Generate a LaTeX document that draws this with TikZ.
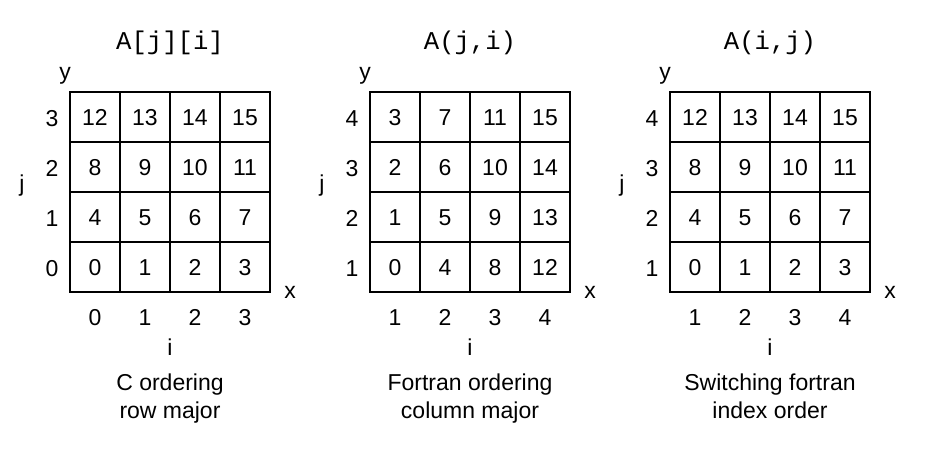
\documentclass[tikz,border=0pt]{standalone}
\usepackage{fontspec}
\setmainfont{Liberation Sans}
\newfontfamily\monofont{Liberation Mono}
\begin{document}
\begin{tikzpicture}[x=0.5pt,y=-0.5pt,
  cell/.style={draw,line width=1pt,minimum size=25pt,inner sep=0pt,text height=8.3pt,text depth=0pt,font=\fontsize{11.5}{13}\selectfont},
  lab/.style={anchor=base,inner sep=0pt,font=\fontsize{11.5}{13}\selectfont},
  ttl/.style={anchor=base,inner sep=0pt,font=\monofont\fontsize{12.8}{14}\selectfont}]
\useasboundingbox (0,0) rectangle (947,451);
\foreach \g/\L/\o/\t/\ca/\cb/\mode in {1/70/0/{A[j][i]}/{C ordering}/{row major}/0,
                                  2/370/1/{A(j,i)}/{Fortran ordering}/{column major}/1,
                                  3/670/1/{A(i,j)}/{Switching fortran}/{index order}/0}{
  \foreach \c in {0,...,3}{
    \foreach \r in {0,...,3}{
      \pgfmathtruncatemacro{\v}{\mode==0 ? 4*\r+\c : 4*\c+\r}
      \node[cell] (cell-\g-\c-\r) at (\L+25+50*\c, 267-50*\r) {\v};
    }
    \pgfmathtruncatemacro{\lv}{\c+\o}
    \node[lab] (col-\g-\c) at (\L+25+50*\c, 325) {\lv};
    \node[lab] (row-\g-\c) at (\L-18, 276-50*\c) {\lv};
  }
  \node[ttl] (title-\g) at (\L+100, 49) {\t};
  \node[lab] (y-\g) at (\L-5, 79) {y};
  \node[lab] (j-\g) at (\L-48, 191) {j};
  \node[lab] (x-\g) at (\L+220, 298) {x};
  \node[lab] (i-\g) at (\L+100, 355) {i};
  \node[lab] (capa-\g) at (\L+100, 390) {\ca};
  \node[lab] (capb-\g) at (\L+100, 418) {\cb};
}
\end{tikzpicture}
\end{document}
